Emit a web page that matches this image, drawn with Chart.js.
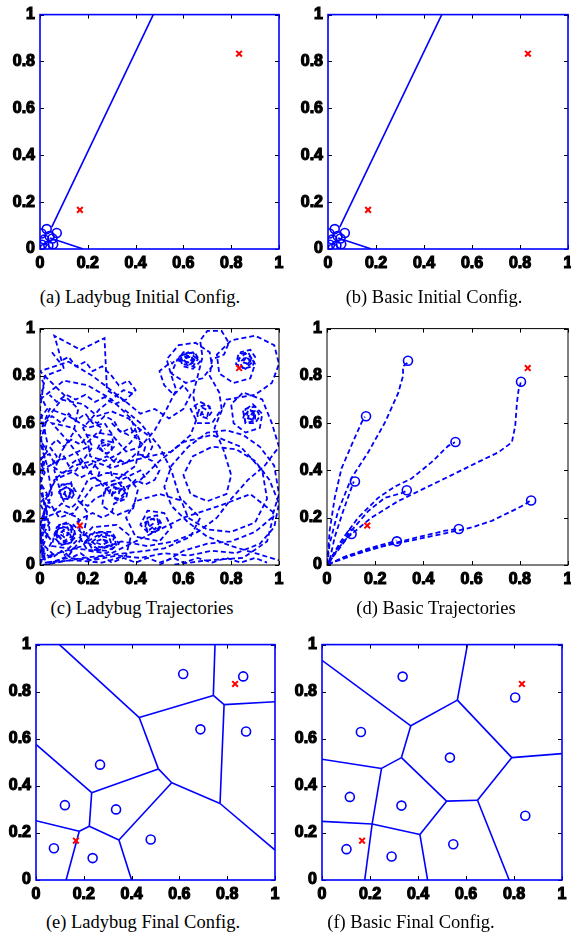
<!DOCTYPE html>
<html>
<head>
<meta charset="utf-8">
<script src="https://cdn.jsdelivr.net/npm/chart.js@4.4.0/dist/chart.umd.min.js"></script>
<style>
  body { margin: 0; width: 571px; height: 942px; background: #fff; position: relative; overflow: hidden; }
  canvas { position: absolute; }
  .caption { position: absolute; width: 300px; text-align: center; font-family: "Liberation Serif", serif; font-size: 18.5px; color: #000; line-height: 20px; }
</style>
</head>
<body>
<canvas id="panelA"></canvas>
<canvas id="panelB"></canvas>
<canvas id="panelC"></canvas>
<canvas id="panelD"></canvas>
<canvas id="panelE"></canvas>
<canvas id="panelF"></canvas>
<div class="caption" id="capA">(a) Ladybug Initial Config.</div>
<div class="caption" id="capB">(b) Basic Initial Config.</div>
<div class="caption" id="capC">(c) Ladybug Trajectories</div>
<div class="caption" id="capD">(d) Basic Trajectories</div>
<div class="caption" id="capE">(e) Ladybug Final Config.</div>
<div class="caption" id="capF">(f) Basic Final Config.</div>
<script>
// Tick labels shared by every axis
const tickLabels = ['0', '0.2', '0.4', '0.6', '0.8', '1'];

// Targets (red crosses)
const targets = [[0.167, 0.167], [0.833, 0.833]];

// Initial robot positions
const ladybugInitial = [[0.006, 0.066], [0.028, 0.085], [0.07, 0.068], [0.04, 0.055], [0.052, 0.045],
  [0.018, 0.04], [0.008, 0.018], [0.035, 0.015], [0.055, 0.02], [0.02, 0.002]];
const basicInitial = [[0.006, 0.066], [0.028, 0.085], [0.07, 0.068], [0.04, 0.055], [0.052, 0.045],
  [0.018, 0.04], [0.008, 0.018], [0.035, 0.015], [0.055, 0.02], [0.02, 0.002]];

// Voronoi edges of initial configs [x1, y1, x2, y2]
const ladybugInitialEdges = [[0.049, 0.093, 0.474, 1.0], [0.042, 0.047, 0.181, 0.0]];
const basicInitialEdges = [[0.049, 0.093, 0.474, 1.0], [0.042, 0.047, 0.181, 0.0]];

// Ladybug trajectories
const ladybugPath1 = [[0.02,0.02],[0.01,0.12],[0.03,0.22],[0.0,0.32],[0.02,0.45],[0.0,0.56],[0.04,0.66],[0.12,0.63],[0.2,0.58],[0.27,0.6],[0.31,0.54],[0.36,0.48],[0.42,0.5],[0.48,0.57],[0.53,0.66],[0.57,0.74],[0.55,0.8],[0.53,0.87],[0.58,0.93],[0.65,0.94],[0.71,0.9],[0.72,0.84],[0.68,0.79],[0.61,0.77],[0.55,0.81],[0.57,0.86],[0.6,0.9],[0.65,0.895],[0.67,0.86],[0.64,0.83],[0.6,0.84],[0.58,0.88],[0.62,0.9],[0.655,0.875],[0.63,0.85],[0.6,0.865],[0.615,0.885],[0.64,0.87],[0.62,0.86]];
const ladybugPath2 = [[0.03,0.01],[0.12,0.03],[0.22,0.02],[0.32,0.04],[0.42,0.03],[0.52,0.05],[0.62,0.04],[0.72,0.06],[0.82,0.05],[0.92,0.09],[0.98,0.16],[1.0,0.26],[0.96,0.36],[0.9,0.44],[0.82,0.49],[0.72,0.5],[0.64,0.46],[0.6,0.38],[0.63,0.3],[0.7,0.27],[0.78,0.3],[0.8,0.38],[0.77,0.48],[0.73,0.58],[0.78,0.7],[0.9,0.72],[0.97,0.77],[1.0,0.85],[0.98,0.93],[0.9,0.97],[0.8,0.95],[0.74,0.89],[0.75,0.81],[0.81,0.77],[0.88,0.79],[0.9,0.85],[0.87,0.9],[0.83,0.89],[0.82,0.85],[0.86,0.83],[0.89,0.86],[0.86,0.88],[0.84,0.86],[0.87,0.85]];
const ladybugPath3 = [[0.0,0.05],[0.04,0.15],[0.02,0.27],[0.07,0.37],[0.14,0.42],[0.22,0.44],[0.3,0.41],[0.38,0.44],[0.46,0.46],[0.55,0.48],[0.63,0.55],[0.66,0.63],[0.64,0.72],[0.66,0.8],[0.68,0.88],[0.67,0.95],[0.7,0.99],[0.76,0.99],[0.79,0.94],[0.77,0.89],[0.72,0.87],[0.71,0.8],[0.75,0.73],[0.76,0.66],[0.72,0.6],[0.66,0.6],[0.63,0.66],[0.67,0.69],[0.71,0.67],[0.7,0.63],[0.675,0.64],[0.68,0.665],[0.7,0.655]];
const ladybugPath4 = [[0.04,0.04],[0.14,0.07],[0.24,0.06],[0.34,0.1],[0.45,0.08],[0.56,0.1],[0.66,0.14],[0.74,0.2],[0.8,0.28],[0.87,0.36],[0.94,0.42],[1.0,0.5],[0.97,0.6],[0.93,0.7],[0.85,0.73],[0.8,0.68],[0.81,0.6],[0.86,0.56],[0.92,0.58],[0.93,0.64],[0.89,0.68],[0.85,0.65],[0.86,0.6],[0.9,0.61],[0.9,0.65],[0.87,0.655],[0.865,0.625],[0.885,0.615],[0.895,0.64],[0.875,0.645]];
const ladybugPath5 = [[0.01,0.03],[0.0,0.18],[0.05,0.3],[0.03,0.42],[0.0,0.52],[0.03,0.62],[0.09,0.7],[0.18,0.68],[0.24,0.63],[0.3,0.65],[0.37,0.62],[0.42,0.57],[0.38,0.52],[0.33,0.47],[0.27,0.44],[0.21,0.46],[0.2,0.52],[0.24,0.56],[0.3,0.55],[0.31,0.5],[0.28,0.47],[0.25,0.49],[0.26,0.52],[0.29,0.51],[0.27,0.49]];
const ladybugPath6 = [[0.02,0.02],[0.0,0.12],[0.02,0.24],[0.0,0.38],[0.03,0.52],[0.0,0.66],[0.02,0.8],[0.1,0.83],[0.06,0.97],[0.17,0.91],[0.27,0.96],[0.28,0.74],[0.36,0.69],[0.22,0.8],[0.12,0.86],[0.0,0.82],[0.08,0.74],[0.16,0.66],[0.14,0.56],[0.09,0.48],[0.06,0.4],[0.08,0.33],[0.13,0.35],[0.14,0.3],[0.1,0.27],[0.08,0.31],[0.11,0.33],[0.13,0.31],[0.11,0.29],[0.1,0.31]];
const ladybugPath7 = [[0.03,0.0],[0.12,0.04],[0.18,0.12],[0.2,0.22],[0.16,0.28],[0.2,0.36],[0.28,0.39],[0.36,0.38],[0.41,0.32],[0.39,0.24],[0.32,0.21],[0.26,0.25],[0.27,0.32],[0.33,0.35],[0.36,0.3],[0.33,0.27],[0.3,0.29],[0.31,0.33],[0.34,0.32],[0.32,0.3]];
const ladybugPath8 = [[0.0,0.02],[0.06,0.04],[0.0,0.1],[0.02,0.2],[0.09,0.23],[0.16,0.2],[0.17,0.12],[0.12,0.07],[0.05,0.08],[0.06,0.13],[0.08,0.17],[0.12,0.175],[0.145,0.14],[0.13,0.095],[0.09,0.085],[0.065,0.11],[0.075,0.155],[0.115,0.16],[0.13,0.12],[0.1,0.1],[0.075,0.125],[0.095,0.145],[0.12,0.135],[0.105,0.115],[0.085,0.13],[0.1,0.13]];
const ladybugPath9 = [[0.02,0.01],[0.14,0.02],[0.26,0.01],[0.36,0.04],[0.38,0.12],[0.32,0.17],[0.22,0.16],[0.17,0.11],[0.2,0.06],[0.28,0.05],[0.33,0.09],[0.3,0.14],[0.23,0.14],[0.19,0.1],[0.24,0.07],[0.3,0.08],[0.31,0.12],[0.26,0.13],[0.22,0.1],[0.26,0.085],[0.29,0.1],[0.25,0.11]];
const ladybugPath10 = [[0.01,0.0],[0.18,0.03],[0.36,0.05],[0.52,0.07],[0.63,0.12],[0.67,0.2],[0.6,0.27],[0.5,0.3],[0.4,0.27],[0.36,0.2],[0.4,0.12],[0.5,0.1],[0.55,0.16],[0.52,0.22],[0.45,0.23],[0.42,0.17],[0.46,0.13],[0.5,0.16],[0.49,0.2],[0.45,0.19],[0.46,0.15],[0.48,0.17]];
const ladybugPath11 = [[0.0,0.4],[0.1,0.45],[0.2,0.5],[0.14,0.58],[0.05,0.6],[0.12,0.52],[0.22,0.38],[0.3,0.3],[0.42,0.36],[0.5,0.44],[0.6,0.52],[0.72,0.55],[0.84,0.5],[0.93,0.4],[0.95,0.28],[0.9,0.18],[0.8,0.14],[0.7,0.15],[0.62,0.2],[0.58,0.3],[0.55,0.4],[0.5,0.5],[0.42,0.6],[0.35,0.66]];
const ladybugPath12 = [[0.0,0.7],[0.1,0.78],[0.2,0.76],[0.3,0.7],[0.38,0.62],[0.42,0.52],[0.4,0.42],[0.32,0.36],[0.22,0.33],[0.14,0.22],[0.08,0.2],[0.03,0.28],[0.06,0.36],[0.15,0.4],[0.22,0.5],[0.18,0.58],[0.25,0.66],[0.35,0.74],[0.4,0.72]];
const ladybugPath13 = [[0.3,0.05],[0.5,0.15],[0.6,0.2],[0.75,0.25],[0.88,0.3],[0.98,0.22],[0.95,0.1],[0.85,0.03],[0.7,0.02],[0.55,0.0]];
const ladybugPath14 = [[0.0,0.45],[0.04,0.47],[0.06,0.43],[0.1,0.46],[0.12,0.42],[0.16,0.45],[0.18,0.41],[0.22,0.43],[0.25,0.4],[0.24,0.36],[0.28,0.34],[0.27,0.3],[0.23,0.28],[0.2,0.25],[0.16,0.27],[0.13,0.24],[0.09,0.26],[0.06,0.23],[0.03,0.25],[0.01,0.21],[0.04,0.18],[0.02,0.14],[0.05,0.1],[0.03,0.06]];
const ladybugPath15 = [[0.02,0.6],[0.05,0.63],[0.09,0.6],[0.12,0.64],[0.15,0.61],[0.19,0.64],[0.22,0.6],[0.26,0.58],[0.24,0.54],[0.2,0.55],[0.17,0.51],[0.13,0.53],[0.1,0.5],[0.07,0.53],[0.04,0.5],[0.07,0.46],[0.05,0.42],[0.09,0.39],[0.13,0.4],[0.17,0.37],[0.21,0.39],[0.24,0.44],[0.28,0.46],[0.32,0.43],[0.35,0.45]];
const ladybugPath16 = [[0.0,0.06],[0.05,0.03],[0.09,0.06],[0.13,0.03],[0.17,0.05],[0.21,0.02],[0.26,0.04],[0.3,0.01],[0.35,0.03],[0.4,0.01],[0.45,0.03],[0.5,0.01],[0.56,0.03],[0.6,0.01],[0.66,0.03],[0.72,0.01],[0.78,0.03],[0.84,0.01],[0.9,0.03],[0.95,0.01]];
const ladybugPath17 = [[0.3,0.6],[0.34,0.56],[0.38,0.58],[0.4,0.54],[0.44,0.5],[0.43,0.46],[0.47,0.44],[0.5,0.4],[0.48,0.36],[0.44,0.34],[0.4,0.36],[0.37,0.33],[0.36,0.28],[0.31,0.26],[0.3,0.22],[0.26,0.2],[0.22,0.22],[0.18,0.2],[0.14,0.17],[0.17,0.14],[0.2,0.12],[0.18,0.08],[0.14,0.07],[0.1,0.04]];
const ladybugPath18 = [[0.0,0.0],[0.02,0.05],[0.0,0.09],[0.03,0.13],[0.0,0.17],[0.02,0.22],[0.0,0.26],[0.03,0.3],[0.0,0.35],[0.02,0.39],[0.0,0.44],[0.03,0.48],[0.0,0.53],[0.02,0.57],[0.0,0.62],[0.03,0.66],[0.0,0.72],[0.02,0.76],[0.0,0.8]];
const ladybugPath19 = [[0.05,0.9],[0.08,0.86],[0.12,0.88],[0.15,0.84],[0.19,0.86],[0.22,0.82],[0.26,0.84],[0.3,0.8],[0.33,0.76],[0.37,0.78],[0.4,0.74],[0.36,0.7],[0.31,0.68],[0.27,0.71],[0.23,0.69],[0.19,0.72],[0.15,0.7],[0.11,0.72],[0.07,0.69],[0.04,0.72]];
const ladybugPath20 = [[0.2,0.62],[0.24,0.6],[0.27,0.63],[0.31,0.61],[0.33,0.57],[0.37,0.55],[0.41,0.58],[0.45,0.55],[0.47,0.5],[0.45,0.46],[0.4,0.47],[0.36,0.43],[0.32,0.45],[0.29,0.42],[0.3,0.38],[0.34,0.36],[0.38,0.38],[0.42,0.4],[0.44,0.37]];
const ladybugPath21 = [[0.5,0.0],[0.6,0.06],[0.7,0.09],[0.8,0.1],[0.9,0.14],[0.97,0.2],[1.0,0.3],[0.98,0.42],[0.92,0.5],[0.85,0.55],[0.78,0.57],[0.7,0.56],[0.62,0.5],[0.55,0.42],[0.52,0.33],[0.55,0.25],[0.62,0.18],[0.7,0.12],[0.8,0.08],[0.9,0.05],[1.0,0.02]];
const ladybugPath22 = [[0.36,0.69],[0.42,0.64],[0.48,0.66],[0.54,0.62],[0.6,0.66],[0.63,0.72],[0.6,0.76],[0.56,0.72],[0.52,0.76],[0.5,0.82],[0.55,0.86]];

// Dense knots where the ladybug robots settle
const knotA = [[0.58,0.86],[0.6,0.89],[0.64,0.9],[0.66,0.87],[0.64,0.84],[0.6,0.85],[0.59,0.88],[0.63,0.885],[0.65,0.86],[0.62,0.845],[0.6,0.87],[0.625,0.88],[0.645,0.87],[0.63,0.855],[0.61,0.86],[0.57,0.87],[0.55,0.85]];
const knotB = [[0.83,0.86],[0.84,0.9],[0.88,0.91],[0.9,0.88],[0.89,0.84],[0.85,0.83],[0.83,0.87],[0.86,0.895],[0.885,0.875],[0.87,0.85],[0.85,0.86],[0.865,0.88],[0.88,0.86],[0.86,0.855]];
const knotC = [[0.66,0.64],[0.67,0.67],[0.7,0.68],[0.72,0.65],[0.7,0.62],[0.67,0.63],[0.685,0.66]];
const knotD = [[0.85,0.62],[0.86,0.66],[0.9,0.67],[0.92,0.63],[0.9,0.6],[0.86,0.6],[0.855,0.635],[0.88,0.655],[0.9,0.64],[0.89,0.615],[0.87,0.62],[0.875,0.64],[0.89,0.635]];
const knotE = [[0.24,0.49],[0.26,0.53],[0.3,0.52],[0.3,0.48],[0.27,0.47],[0.25,0.5],[0.28,0.51]];
const knotF = [[0.08,0.3],[0.09,0.34],[0.13,0.345],[0.15,0.31],[0.13,0.28],[0.09,0.28],[0.085,0.315],[0.11,0.33],[0.135,0.315],[0.12,0.29],[0.1,0.3],[0.11,0.32]];
const knotG = [[0.29,0.3],[0.3,0.34],[0.34,0.35],[0.36,0.31],[0.33,0.28],[0.3,0.29],[0.31,0.32],[0.335,0.325],[0.33,0.3]];
const knotH = [[0.06,0.12],[0.07,0.16],[0.11,0.18],[0.14,0.16],[0.15,0.12],[0.12,0.09],[0.08,0.09],[0.065,0.14],[0.09,0.165],[0.13,0.15],[0.135,0.11],[0.1,0.095],[0.08,0.12],[0.1,0.15],[0.12,0.13],[0.1,0.115]];
const knotI = [[0.19,0.09],[0.21,0.13],[0.26,0.14],[0.31,0.12],[0.32,0.08],[0.28,0.06],[0.22,0.065],[0.2,0.1],[0.24,0.125],[0.29,0.115],[0.3,0.085],[0.25,0.075],[0.22,0.095],[0.26,0.11],[0.28,0.095]];
const knotJ = [[0.44,0.16],[0.45,0.2],[0.49,0.21],[0.51,0.17],[0.49,0.14],[0.45,0.14],[0.44,0.18],[0.47,0.195],[0.5,0.18],[0.48,0.15],[0.46,0.165],[0.48,0.18]];

// Basic trajectories
const basicPath1 = [[0.0,0.0],[0.011,0.09],[0.046,0.228],[0.101,0.367],[0.171,0.477],[0.24,0.602],[0.295,0.726],[0.316,0.802],[0.315,0.84],[0.337,0.858]];
const basicPath2 = [[0.001,0.007],[0.011,0.145],[0.032,0.284],[0.06,0.408],[0.101,0.505],[0.143,0.602],[0.157,0.627]];
const basicPath3 = [[0.011,0.021],[0.032,0.118],[0.067,0.228],[0.101,0.325],[0.111,0.353]];
const basicPath4 = [[0.011,0.014],[0.046,0.069],[0.08,0.111],[0.101,0.134]];
const basicPath5 = [[0.004,0.003],[0.074,0.035],[0.17,0.069],[0.268,0.097],[0.288,0.104]];
const basicPath6 = [[0.004,0.007],[0.06,0.104],[0.129,0.2],[0.212,0.284],[0.282,0.332],[0.351,0.366],[0.434,0.435],[0.503,0.504],[0.531,0.519]];
const basicPath7 = [[0.004,0.007],[0.046,0.076],[0.101,0.145],[0.171,0.228],[0.24,0.284],[0.309,0.304],[0.333,0.315]];
const basicPath8 = [[0.004,0.007],[0.087,0.118],[0.184,0.2],[0.295,0.27],[0.406,0.325],[0.517,0.38],[0.628,0.436],[0.712,0.477],[0.767,0.519],[0.781,0.588],[0.788,0.685],[0.795,0.741],[0.804,0.772]];
const basicPath9 = [[0.004,0.004],[0.129,0.048],[0.268,0.09],[0.379,0.118],[0.49,0.145],[0.542,0.152]];
const basicPath10 = [[0.004,0.0],[0.074,0.035],[0.212,0.076],[0.351,0.104],[0.49,0.134],[0.601,0.159],[0.684,0.187],[0.767,0.228],[0.822,0.256],[0.843,0.272]];

// Final robot positions
const ladybugFinal = [[0.616,0.875],[0.867,0.865],[0.688,0.64],[0.879,0.631],[0.268,0.49],
  [0.121,0.318],[0.335,0.3],[0.075,0.135],[0.237,0.093],[0.48,0.172]];
const basicFinal = [[0.336,0.864],[0.162,0.629],[0.116,0.353],[0.331,0.316],[0.533,0.52],
  [0.805,0.775],[0.847,0.273],[0.547,0.152],[0.29,0.1],[0.102,0.131]];

// Final Voronoi edges [x1, y1, x2, y2]
const ladybugFinalEdges = [
  [0.098,1.0,0.432,0.69],[0.432,0.69,0.742,0.784],[0.742,0.784,0.749,1.0],[0.742,0.784,0.787,0.745],
  [0.787,0.745,1.0,0.757],[0.787,0.745,0.77,0.325],[0.432,0.69,0.512,0.472],[0.512,0.472,0.568,0.413],
  [0.568,0.413,0.77,0.325],[0.77,0.325,1.0,0.127],[0.512,0.472,0.233,0.371],[0.233,0.371,0.0,0.576],
  [0.233,0.371,0.223,0.228],[0.223,0.228,0.181,0.207],[0.181,0.207,0.0,0.252],[0.181,0.207,0.126,0.0],
  [0.223,0.228,0.347,0.17],[0.347,0.17,0.4,0.0],[0.347,0.17,0.568,0.413]];
const basicFinalEdges = [
  [0.0,0.933,0.37,0.655],[0.37,0.655,0.564,0.764],[0.564,0.764,0.606,1.0],[0.564,0.764,0.791,0.52],
  [0.791,0.52,1.0,0.537],[0.791,0.52,0.648,0.339],[0.37,0.655,0.331,0.52],[0.331,0.52,0.248,0.474],
  [0.248,0.474,0.0,0.513],[0.248,0.474,0.209,0.238],[0.209,0.238,0.0,0.249],[0.209,0.238,0.178,0.0],
  [0.209,0.238,0.408,0.193],[0.408,0.193,0.44,0.0],[0.408,0.193,0.519,0.335],[0.331,0.52,0.519,0.335],
  [0.519,0.335,0.648,0.339],[0.648,0.339,0.78,0.0]];

const BLUE = '#0000ff';

// Draws the axes box and the inward tick marks
const framePlugin = {
  id: 'frame',
  afterDatasetsDraw(chart, args, opts) {
    const { ctx, chartArea: a, scales } = chart;
    ctx.save();
    ctx.strokeStyle = '#000';
    ctx.lineWidth = 1;
    ctx.beginPath();
    scales.x.ticks.forEach(t => {
      const px = Math.round(scales.x.getPixelForValue(t.value)) + 0.5;
      ctx.moveTo(px, a.bottom); ctx.lineTo(px, a.bottom - 4);
      ctx.moveTo(px, a.top); ctx.lineTo(px, a.top + 4);
    });
    scales.y.ticks.forEach(t => {
      const py = Math.round(scales.y.getPixelForValue(t.value)) + 0.5;
      ctx.moveTo(a.left, py); ctx.lineTo(a.left + 4, py);
      ctx.moveTo(a.right, py); ctx.lineTo(a.right - 4, py);
    });
    ctx.stroke();
    ctx.strokeStyle = opts.color || '#000';
    ctx.lineWidth = opts.width || 1;
    ctx.strokeRect(a.left, a.top, a.width, a.height);
    ctx.restore();
  }
};

function toXY(points) {
  return points.map(p => ({ x: p[0], y: p[1] }));
}

function lineSet(points, dashed) {
  return {
    data: toXY(points), showLine: true, pointRadius: 0, borderColor: BLUE,
    borderWidth: dashed ? 1.8 : 1.6, borderDash: dashed ? [5, 3] : [], tension: 0, fill: false
  };
}

function edgeSets(edges) {
  return edges.map(e => lineSet([[e[0], e[1]], [e[2], e[3]]], false));
}

function circleSet(points) {
  return {
    data: toXY(points), showLine: false, pointStyle: 'circle', pointRadius: 4.5,
    pointBorderWidth: 1.6, pointBorderColor: BLUE, pointBackgroundColor: 'rgba(0,0,0,0)'
  };
}

function targetSet() {
  return {
    data: toXY(targets), showLine: false, pointStyle: 'crossRot', pointRadius: 4,
    pointBorderWidth: 2, pointBorderColor: '#ff0000', pointBackgroundColor: '#ff0000'
  };
}

function axis(position) {
  return {
    type: 'linear', position: position, min: 0, max: 1,
    grid: { display: false, drawTicks: false },
    border: { display: false },
    ticks: {
      stepSize: 0.2, autoSkip: false, maxRotation: 0,
      padding: 5,
      color: '#000',
      textStrokeColor: '#000',
      textStrokeWidth: 1.2,
      font: { family: "'Liberation Sans', Arial", size: 16, weight: 'bold' },
      callback: (v, i) => tickLabels[i]
    },
    afterFit: scale => {
      if (position === 'bottom') scale.height = 25; else scale.width = 40;
    }
  };
}

// Build one panel: canvas placed so that the plot box lands at (left, top)
function makePanel(id, left, top, w, h, datasets, frameColor) {
  const canvas = document.getElementById(id);
  canvas.width = w + 50;
  canvas.height = h + 35;
  canvas.style.left = (left - 40) + 'px';
  canvas.style.top = (top - 10) + 'px';
  new Chart(canvas.getContext('2d'), {
    type: 'scatter',
    data: { datasets: datasets },
    options: {
      responsive: false, animation: false, events: [],
      layout: { padding: { top: 10, right: 10, left: 0, bottom: 0 } },
      scales: { x: axis('bottom'), y: axis('left') },
      plugins: { legend: { display: false }, tooltip: { enabled: false }, frame: { color: frameColor, width: frameColor === BLUE ? 1.6 : 1 } }
    },
    plugins: [framePlugin]
  });
}

function placeCaption(id, cx, cy) {
  const el = document.getElementById(id);
  el.style.left = (cx - 150) + 'px';
  el.style.top = (cy - 10) + 'px';
}

document.addEventListener('DOMContentLoaded', function() {
  const ladybugPaths = [ladybugPath1, ladybugPath2, ladybugPath3, ladybugPath4, ladybugPath5, ladybugPath6,
    ladybugPath7, ladybugPath8, ladybugPath9, ladybugPath10, ladybugPath11, ladybugPath12, ladybugPath13,
    ladybugPath14, ladybugPath15, ladybugPath16, ladybugPath17, ladybugPath18, ladybugPath19,
    ladybugPath20, ladybugPath21, ladybugPath22,
    knotA, knotB, knotC, knotD, knotE, knotF, knotG, knotH, knotI, knotJ];
  const basicPaths = [basicPath1, basicPath2, basicPath3, basicPath4, basicPath5,
    basicPath6, basicPath7, basicPath8, basicPath9, basicPath10];

  makePanel('panelA', 40, 10, 239, 239,
    [targetSet(), circleSet(ladybugInitial)].concat(edgeSets(ladybugInitialEdges)), BLUE);
  makePanel('panelB', 328, 10, 240, 239,
    [targetSet(), circleSet(basicInitial)].concat(edgeSets(basicInitialEdges)), BLUE);
  makePanel('panelC', 40, 324, 239, 241,
    [targetSet()].concat(ladybugPaths.map(p => lineSet(p, true))), '#000');
  makePanel('panelD', 327, 324, 241, 241,
    [targetSet(), circleSet(basicFinal)].concat(basicPaths.map(p => lineSet(p, true))), '#000');
  makePanel('panelE', 36, 640, 239, 240,
    [targetSet(), circleSet(ladybugFinal)].concat(edgeSets(ladybugFinalEdges)), BLUE);
  makePanel('panelF', 322, 640, 240, 240,
    [targetSet(), circleSet(basicFinal)].concat(edgeSets(basicFinalEdges)), BLUE);

  placeCaption('capA', 140, 297);
  placeCaption('capB', 434, 297);
  placeCaption('capC', 142, 608);
  placeCaption('capD', 436, 608);
  placeCaption('capE', 143, 922);
  placeCaption('capF', 411, 922);
});
</script>
</body>
</html>
